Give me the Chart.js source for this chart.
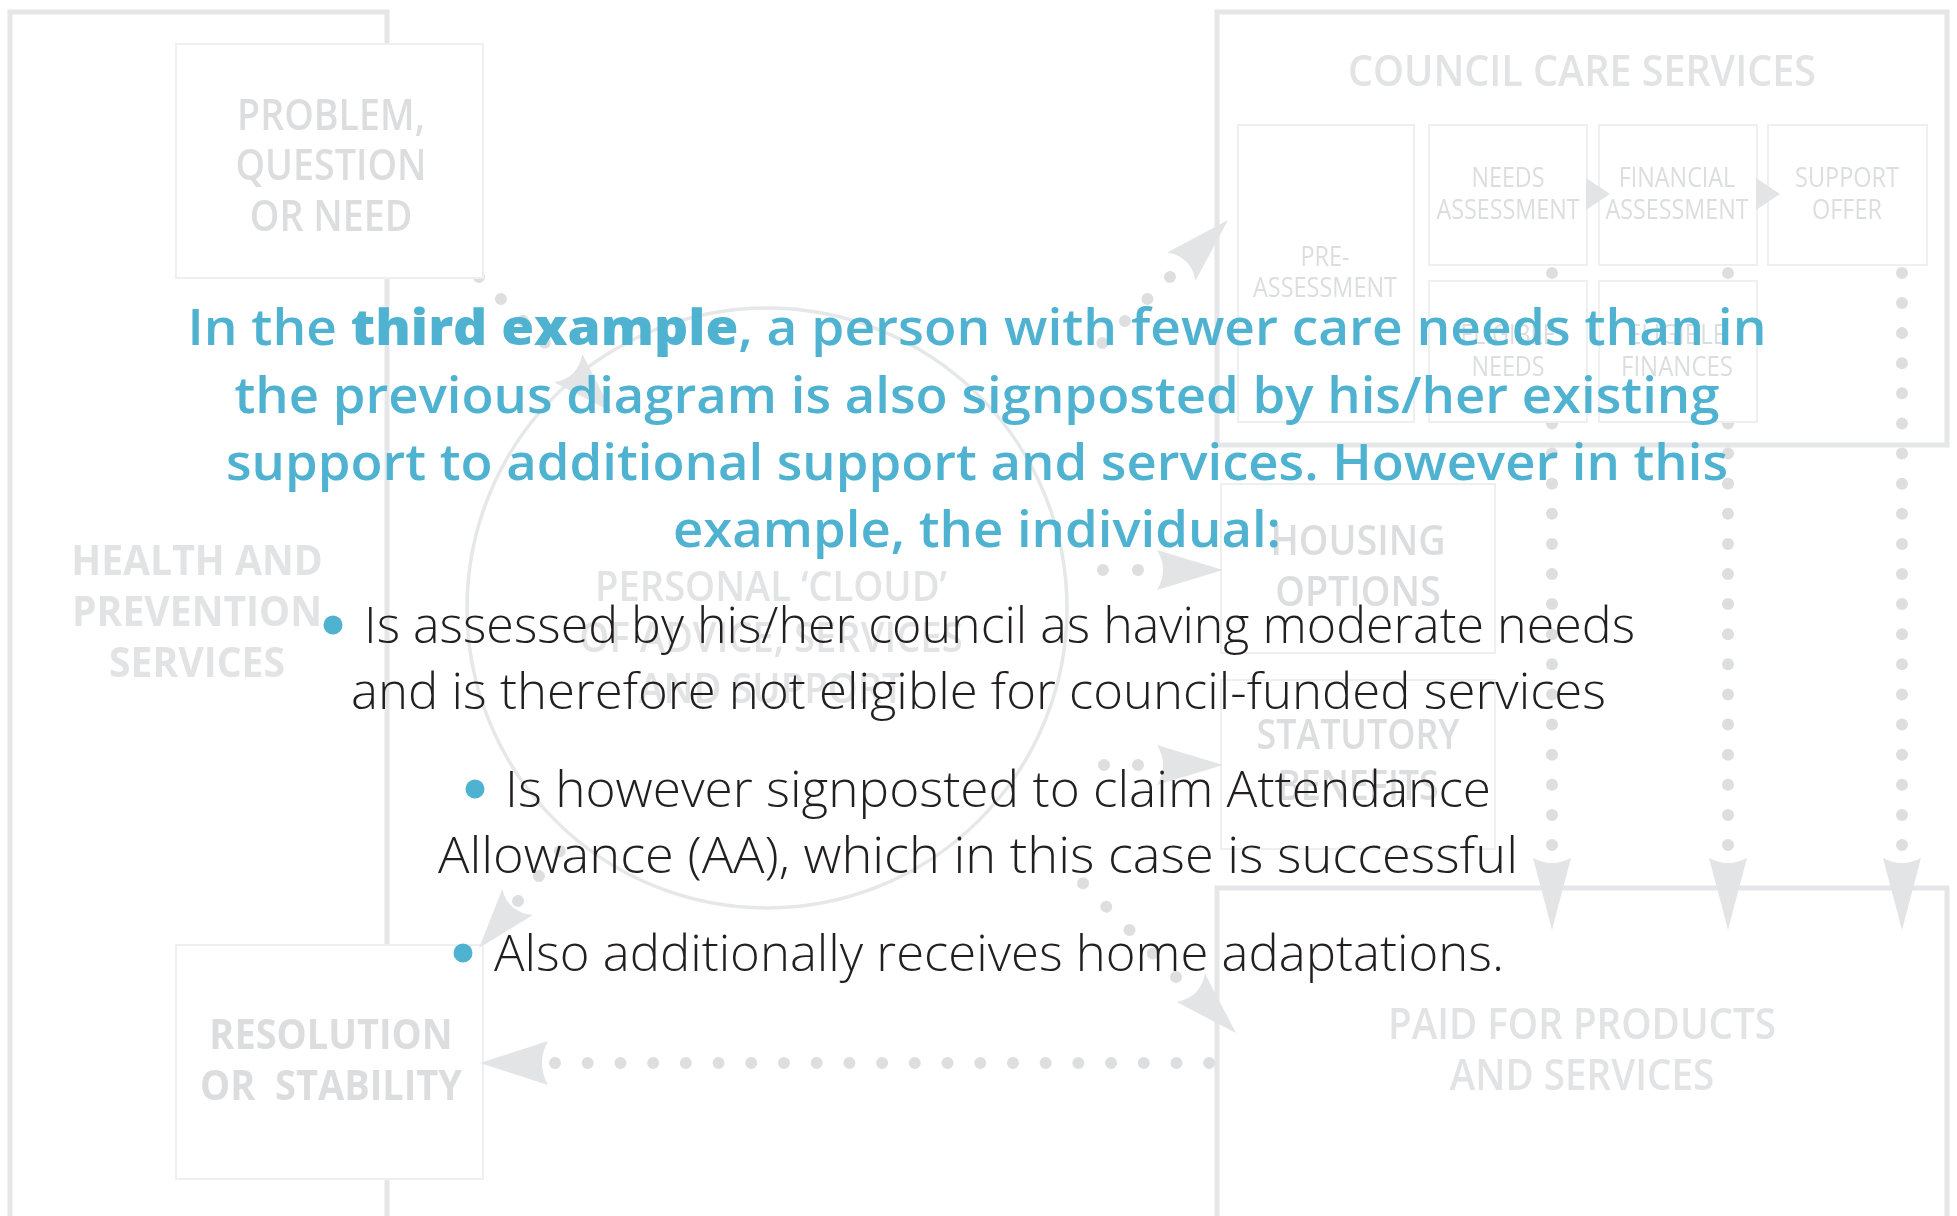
<!DOCTYPE html>
<html>
<head>
<meta charset="utf-8">
<style>
  html, body { margin: 0; padding: 0; background: #fff; }
  canvas { display: block; }
</style>
<script src="https://cdn.jsdelivr.net/npm/chart.js@4.4.0/dist/chart.umd.min.js"></script>
</head>
<body>
<canvas id="diagram" width="1957" height="1216"></canvas>
<script>
// ---- text content ----
const titleLines = [
  [["In the ", 600], ["third example", 800], [", a person with fewer care needs than in", 600]],
  [["the previous diagram is also signposted by his/her existing", 600]],
  [["support to additional support and services. However in this", 600]],
  [["example, the individual:", 600]]
];
const bulletLines = [
  "Is assessed by his/her council as having moderate needs",
  "and is therefore not eligible for council-funded services",
  "Is however signposted to claim Attendance",
  "Allowance (AA), which in this case is successful",
  "Also additionally receives home adaptations."
];
const bulletStarts = [true, false, true, false, true];

// boxes of the faded diagram behind the text
const nodeLabels = [
  ["PROBLEM,", "QUESTION", "OR NEED"],
  ["RESOLUTION", "OR  STABILITY"],
  ["PRE-", "ASSESSMENT"],
  ["NEEDS", "ASSESSMENT"],
  ["FINANCIAL", "ASSESSMENT"],
  ["SUPPORT", "OFFER"],
  ["ELIGIBLE", "NEEDS"],
  ["ELIGIBLE", "FINANCES"],
  ["HOUSING", "OPTIONS"],
  ["STATUTORY", "BENEFITS"]
];
const groupLabels = [
  ["HEALTH AND", "PREVENTION", "SERVICES"],
  ["COUNCIL CARE SERVICES"],
  ["PAID FOR PRODUCTS", "AND SERVICES"],
  ["PERSONAL \u2018CLOUD\u2019", "OF ADVICE, SERVICES", "AND SUPPORT"]
];

// ---- layout (diagram units = scale values) ----
const nodeBoxes = [
  [176, 44, 483, 278], [176, 945, 483, 1179],
  [1238, 125, 1414, 422], [1429, 125, 1587, 265], [1599, 125, 1757, 265], [1768, 125, 1927, 265],
  [1429, 281, 1587, 422], [1599, 281, 1757, 422],
  [1221, 484, 1495, 653], [1221, 680, 1495, 849]
];
// cx, first line y, line gap, font size, weight, reference text, reference width
const nodeText = [
  [331, 117, 50.5, 44, 600, "QUESTION", 191],
  [331, 1037, 51, 42, 700, "OR  STABILITY", 262],
  [1325, 258, 31, 27, 400, "ASSESSMENT", 144],
  [1508, 179, 32, 27, 400, "ASSESSMENT", 143],
  [1677, 179, 32, 27, 400, "ASSESSMENT", 143],
  [1847, 179, 32, 27, 400, "SUPPORT", 104],
  [1508, 336, 32, 27, 400, "ASSESSMENT", 143],
  [1677, 336, 32, 27, 400, "FINANCES", 112],
  [1358, 543, 51, 42, 600, "HOUSING", 175],
  [1358, 737, 51, 42, 600, "STATUTORY", 203]
];
const groupText = [
  [197, 563, 51, 42, 700, "PREVENTION", 250],
  [1582, 73, 0, 44, 600, "COUNCIL CARE SERVICES", 468],
  [1582, 1027, 51, 43, 600, "PAID FOR PRODUCTS", 388],
  [771, 589, 51, 42, 600, "PERSONAL \u2018CLOUD\u2019", 352]
];
const frames = [[10, 12, 387, 1240], [1217, 12, 1947, 445], [1217, 888, 1947, 1240]];
const cloud = [767, 608, 300];

// dotted connectors: x0, y0, x1, y1, dot spacing
const connectors = [
  [479, 277, 545, 343, 31],
  [1170, 277, 1080, 365, 31.5],
  [1138, 570, 1068, 570, 35],
  [1138, 765, 1070, 765, 34],
  [1176, 977, 1060, 860, 33],
  [518, 901, 560, 851, 32.5],
  [555, 1063, 1212, 1063, 32.7],
  [1552, 845, 1552, 271, 30.1],
  [1728, 845, 1728, 271, 30.1],
  [1902, 845, 1902, 271, 30.1]
];
// arrow heads: tip x, tip y, angle, length, half width, notch
const arrows = [
  [612, 412, 45, 62, 20, 14],
  [1228, 220, -45, 66, 20, 14],
  [1223, 570, 0, 66, 20, 12],
  [1223, 765, 0, 66, 20, 12],
  [1236, 1033, 45, 64, 20, 14],
  [479, 948, 130, 60, 20, 14],
  [480, 1063, 180, 68, 22, 12],
  [1552, 930, 90, 72, 19, 10],
  [1728, 930, 90, 72, 19, 10],
  [1902, 930, 90, 72, 19, 10],
  [1610, 194, 0, 24, 16, 0],
  [1780, 194, 0, 24, 16, 0]
];

const titleWidths = [1579, 1485, 1502, 608];
const titleBase = [345, 413, 480, 547];
const titleCenter = 977;
// text left, text right, baseline, bullet x
const bulletLayout = [
  [364, 1635, 643, 333], [351, 1606, 709, null],
  [505, 1491, 807, 475], [438, 1518, 873, null],
  [494, 1504, 971, 463]
];

const BLUE = 'rgb(79,178,208)';
const INK = '#231f20';
const FONT = '"Open Sans", "Noto Sans", sans-serif';

function drawLabelBlock(ctx, lines, spec, color, px, py) {
  const [cx, y0, gap, size, weight, refText, refW] = spec;
  ctx.font = `${weight} ${size}px ${FONT}`;
  const sx = refW / ctx.measureText(refText).width;
  ctx.fillStyle = color;
  ctx.textAlign = 'center';
  ctx.textBaseline = 'middle';
  lines.forEach((t, i) => {
    ctx.save();
    ctx.translate(px(cx), py(y0 + i * gap));
    ctx.scale(sx, 1);
    ctx.fillText(t, 0, 0);
    ctx.restore();
  });
}

function arrowHead(ctx, tx, ty, ang, len, hw, notch) {
  ctx.save();
  ctx.translate(tx, ty);
  ctx.rotate(ang * Math.PI / 180);
  ctx.beginPath();
  ctx.moveTo(0, 0);
  ctx.lineTo(-len, -hw);
  ctx.quadraticCurveTo(-len + notch, 0, -len, hw);
  ctx.closePath();
  ctx.fill();
  ctx.restore();
}

const diagramPlugin = {
  id: 'diagram',
  beforeDatasetsDraw(chart) {
    const ctx = chart.ctx;
    const px = v => chart.scales.x.getPixelForValue(v);
    const py = v => chart.scales.y.getPixelForValue(v);
    ctx.save();
    ctx.strokeStyle = '#e5e6e8';
    ctx.lineWidth = 5;
    frames.forEach(f => {
      ctx.strokeRect(px(f[0]), py(f[1]), px(f[2]) - px(f[0]), py(f[3]) - py(f[1]));
    });
    ctx.strokeStyle = '#e6e7e9';
    ctx.lineWidth = 3.5;
    ctx.beginPath();
    ctx.arc(px(cloud[0]), py(cloud[1]), px(cloud[0] + cloud[2]) - px(cloud[0]), 0, Math.PI * 2);
    ctx.stroke();
    ctx.restore();
  },
  afterDatasetsDraw(chart) {
    const ctx = chart.ctx;
    const px = v => chart.scales.x.getPixelForValue(v);
    const py = v => chart.scales.y.getPixelForValue(v);
    ctx.save();
    ctx.lineWidth = 2;
    ctx.strokeStyle = '#eeeff1';
    ctx.fillStyle = '#ffffff';
    nodeBoxes.forEach(b => {
      const x = px(b[0]), y = py(b[1]), w = px(b[2]) - x, h = py(b[3]) - y;
      ctx.fillRect(x, y, w, h);
      ctx.strokeRect(x, y, w, h);
    });
    ctx.fillStyle = '#e3e4e6';
    arrows.forEach(a => arrowHead(ctx, px(a[0]), py(a[1]), a[2], a[3], a[4], a[5]));
    nodeLabels.forEach((lines, i) => drawLabelBlock(ctx, lines, nodeText[i], '#dcdddf', px, py));
    groupLabels.forEach((lines, i) => drawLabelBlock(ctx, lines, groupText[i], '#e2e3e5', px, py));
    ctx.restore();
  },
  afterDraw(chart) {
    const ctx = chart.ctx;
    const px = v => chart.scales.x.getPixelForValue(v);
    const py = v => chart.scales.y.getPixelForValue(v);
    ctx.save();
    ctx.textBaseline = 'alphabetic';
    ctx.textAlign = 'left';
    ctx.fillStyle = BLUE;
    titleLines.forEach((segs, i) => {
      const widths = segs.map(s => {
        ctx.font = `${s[1]} 50px ${FONT}`;
        return ctx.measureText(s[0]).width;
      });
      const total = widths.reduce((a, b) => a + b, 0);
      const sx = titleWidths[i] / total;
      let x = px(titleCenter - titleWidths[i] / 2);
      segs.forEach((s, j) => {
        ctx.font = `${s[1]} 50px ${FONT}`;
        ctx.save();
        ctx.translate(x, py(titleBase[i]));
        ctx.scale(sx, 1);
        ctx.fillText(s[0], 0, 0);
        ctx.restore();
        x += widths[j] * sx;
      });
    });
    ctx.font = `300 50px ${FONT}`;
    bulletLines.forEach((t, i) => {
      const [l, r, base, bx] = bulletLayout[i];
      const sx = (r - l) / ctx.measureText(t).width;
      ctx.fillStyle = INK;
      ctx.save();
      ctx.translate(px(l), py(base));
      ctx.scale(sx, 1);
      ctx.fillText(t, 0, 0);
      ctx.restore();
      if (bulletStarts[i]) {
        ctx.fillStyle = BLUE;
        ctx.beginPath();
        ctx.arc(px(bx), py(base - 18), 9.5, 0, Math.PI * 2);
        ctx.fill();
      }
    });
    ctx.restore();
  }
};

const datasets = connectors.map(c => ({
  data: [{ x: c[0], y: c[1] }, { x: c[2], y: c[3] }],
  showLine: true,
  borderColor: '#dddee0',
  borderWidth: 12,
  borderDash: [0.01, c[4]],
  borderCapStyle: 'round',
  pointRadius: 0,
  fill: false,
  tension: 0
}));

new Chart(document.getElementById('diagram'), {
  type: 'scatter',
  data: { datasets },
  options: {
    responsive: false,
    animation: false,
    devicePixelRatio: 1,
    layout: { padding: 0 },
    events: [],
    scales: {
      x: { type: 'linear', min: 0, max: 1957, display: false },
      y: { type: 'linear', min: 0, max: 1216, reverse: true, display: false }
    },
    plugins: { legend: { display: false }, tooltip: { enabled: false } }
  },
  plugins: [diagramPlugin]
});
</script>
</body>
</html>
